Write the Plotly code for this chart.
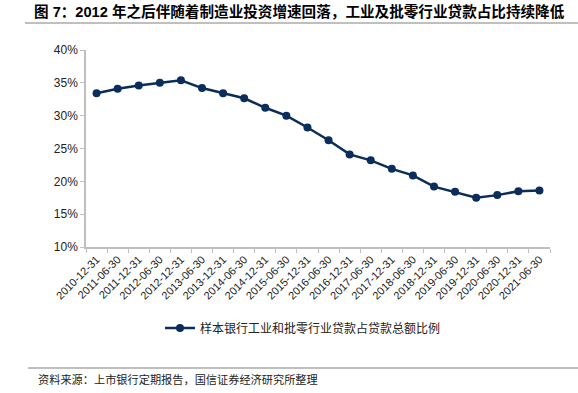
import plotly.graph_objects as go

dates = ["2010-12-31", "2011-06-30", "2011-12-31", "2012-06-30", "2012-12-31",
         "2013-06-30", "2013-12-31", "2014-06-30", "2014-12-31", "2015-06-30",
         "2015-12-31", "2016-06-30", "2016-12-31", "2017-06-30", "2017-12-31",
         "2018-06-30", "2018-12-31", "2019-06-30", "2019-12-31", "2020-06-30",
         "2020-12-31", "2021-06-30"]
ratio = [33.4, 34.1, 34.6, 35.0, 35.4, 34.2, 33.4, 32.65, 31.2, 30.0,
         28.2, 26.25, 24.1, 23.2, 21.9, 20.9, 19.2, 18.4, 17.5, 17.9,
         18.5, 18.6]
ratio_frac = [v / 100 for v in ratio]
y_ticks = [0.10, 0.15, 0.20, 0.25, 0.30, 0.35, 0.40]

series_name = "样本银行工业和批零行业贷款占贷款总额比例"
title_text = "<b>图 7：2012 年之后伴随着制造业投资增速回落，工业及批零行业贷款占比持续降低</b>"
source_text = "资料来源：上市银行定期报告，国信证券经济研究所整理"

W, H = 578, 393
L, R, T, B = 86, 28, 50, 146
pw, ph = W - L - R, H - T - B

def px_x(x):
    return (x - L) / pw

def px_y(y):
    return (H - B - y) / ph

navy = "#0b2d5b"
axis_gray = "#bfbfbf"
cjk = "Liberation Sans, Arial, Noto Sans CJK SC, sans-serif"

fig = go.Figure()
fig.add_trace(go.Scatter(
    x=dates, y=ratio_frac, mode="lines+markers", name=series_name,
    line=dict(color=navy, width=2.5),
    marker=dict(color=navy, size=8),
))

fig.update_layout(
    width=W, height=H,
    margin=dict(l=L, r=R, t=T, b=B),
    paper_bgcolor="white", plot_bgcolor="white",
    showlegend=True,
    title=dict(text=title_text, xref="container", yref="container",
               x=34 / W, y=1 - 12 / H, xanchor="left", yanchor="middle",
               font=dict(family=cjk, size=14.6, color="#000000")),
    legend=dict(orientation="h", x=px_x(303), xanchor="center",
                y=px_y(328), yanchor="middle",
                font=dict(family=cjk, size=12, color="#222222"),
                bgcolor="rgba(0,0,0,0)"),
    font=dict(family=cjk, color="#222222"),
)

fig.update_xaxes(
    type="category", tickangle=-45, tickson="boundaries",
    ticks="outside", ticklen=4, tickcolor=axis_gray,
    showline=True, linecolor=axis_gray, linewidth=1.5,
    showgrid=False, tickfont=dict(size=11, color="#222222"),
    range=[-0.5, len(dates) - 0.5],
)
fig.update_yaxes(
    range=[0.10, 0.40], tickvals=y_ticks, tickformat=".0%",
    ticks="outside", ticklen=4, tickcolor=axis_gray,
    showline=True, linecolor=axis_gray, linewidth=1.5,
    showgrid=False, zeroline=False, tickfont=dict(size=12, color="#222222"),
)

fig.add_annotation(text=source_text, xref="paper", yref="paper",
                   x=px_x(36), y=px_y(379), xanchor="left", yanchor="middle",
                   showarrow=False,
                   font=dict(family=cjk, size=11.2, color="#222222"))
fig.add_shape(type="line", xref="paper", yref="paper",
              x0=px_x(25), x1=px_x(578), y0=px_y(23), y1=px_y(23),
              line=dict(color="#808080", width=1))
fig.add_shape(type="line", xref="paper", yref="paper",
              x0=px_x(28), x1=px_x(578), y0=px_y(368), y1=px_y(368),
              line=dict(color="#808080", width=1))

fig.write_html("out.html", config={"displayModeBar": False},
               post_script="document.body.style.margin='0';document.body.style.overflow='hidden';")
